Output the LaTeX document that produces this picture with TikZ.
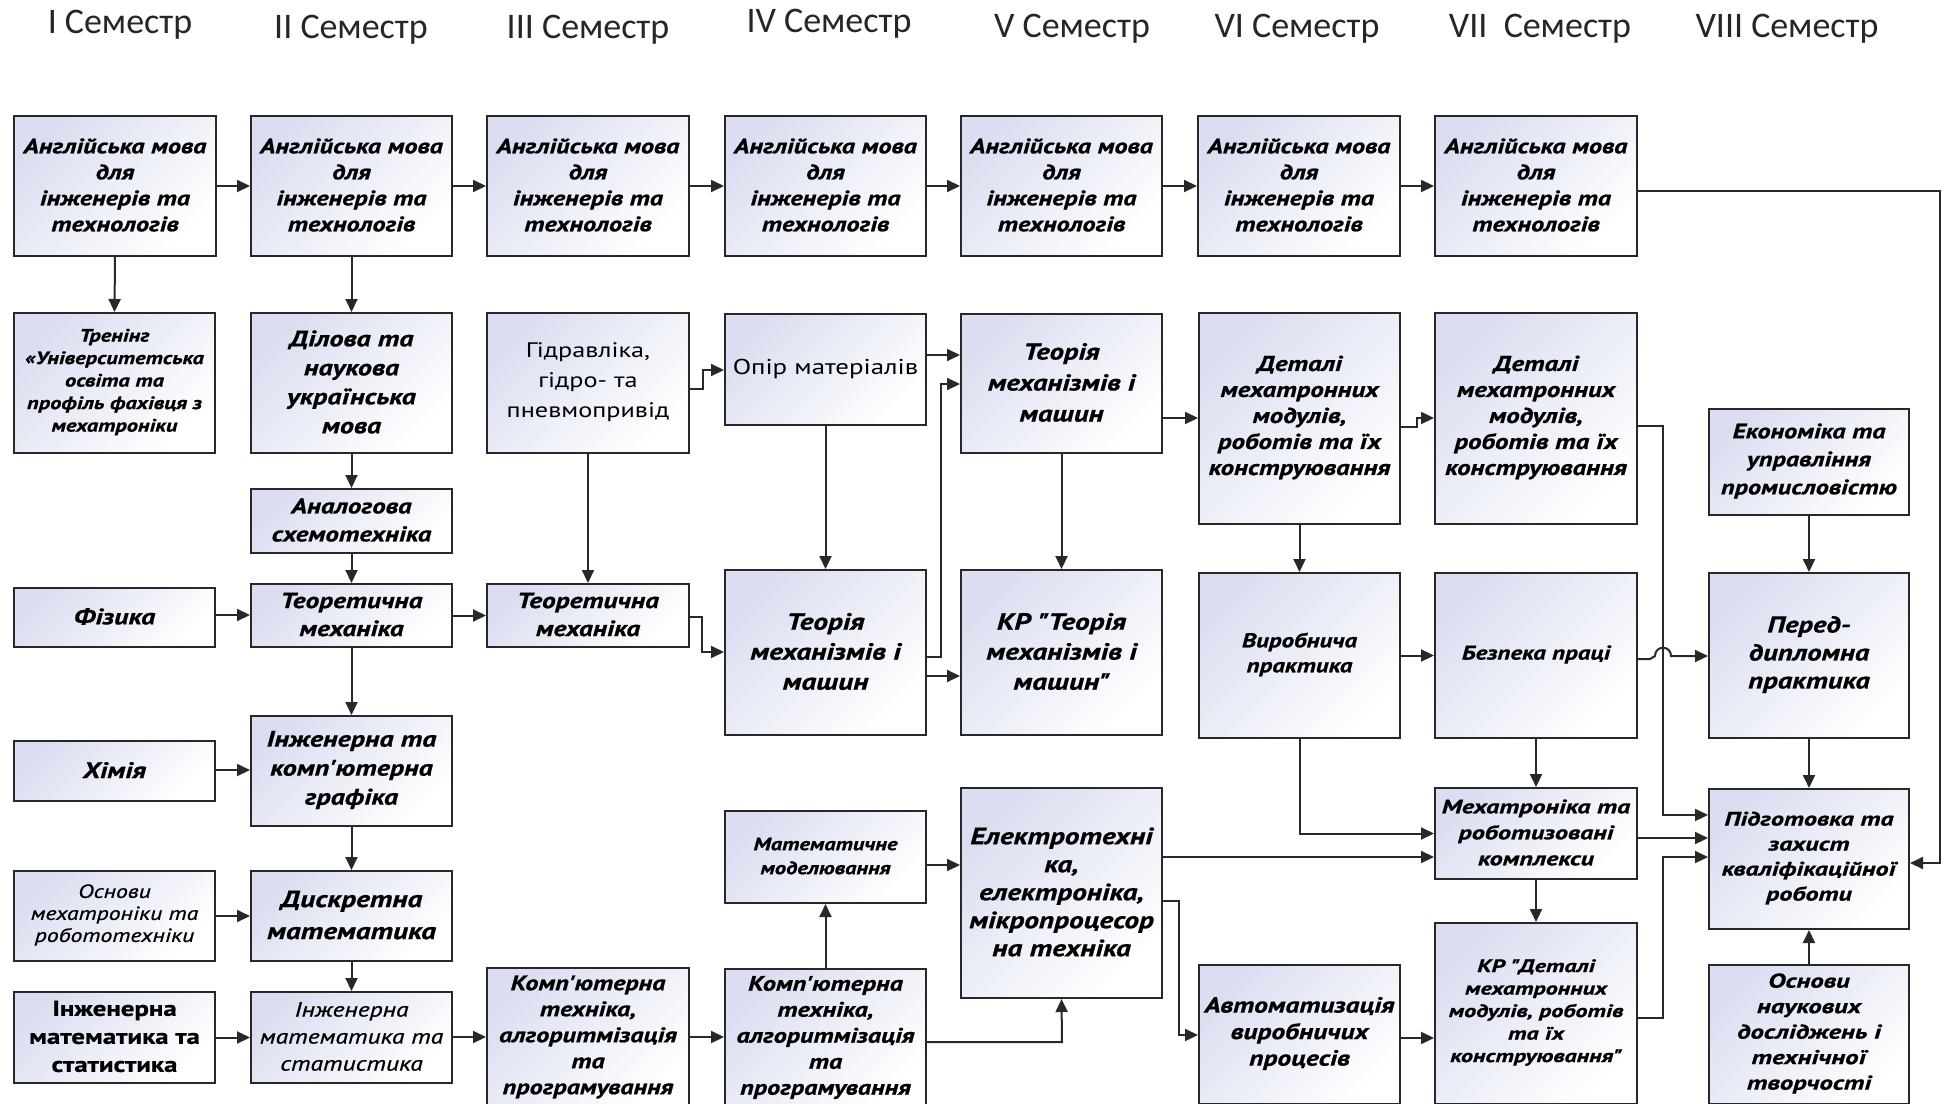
\documentclass[tikz,border=0pt]{standalone}
\usepackage{fontspec}
\newfontfamily\pts{PT Sans}[FakeStretch=1.25]
\newfontfamily\ptb{PT Sans}[FakeStretch=1.25, FakeBold=0.8]
\newfontfamily\ptw{PT Sans}[FakeStretch=1.34, FakeBold=0.8]
\newfontfamily\calib{Carlito}
\usetikzlibrary{fit,arrows.meta}
\definecolor{boxtop}{RGB}{218,222,240}
\definecolor{bordc}{RGB}{40,40,40}
\newcommand\fbi[2]{\ptb\bfseries\itshape\fontsize{#1}{#2}\selectfont}
\newcommand\fwi[2]{\ptw\bfseries\itshape\fontsize{#1}{#2}\selectfont}
\newcommand\fri[2]{\ptb\itshape\fontsize{#1}{#2}\selectfont}
\newcommand\frr[2]{\pts\fontsize{#1}{#2}\selectfont}
\newcommand\fbr[2]{\ptb\bfseries\fontsize{#1}{#2}\selectfont}
\newcommand\bx[5][]{%
  \node[box,fit={(#3) (#4)}] (#2) {};
  \node[boxtext,#1] (#2-t) at ([yshift=1pt]#2.center) {#5};}
\tikzset{
  box/.style={draw=bordc, line width=2pt, top color=boxtop, bottom color=white, shading angle=45,
    inner sep=0pt},
  boxtext/.style={inner sep=0pt, align=center, text=black},
  arr/.style={line width=2pt, draw=bordc, -{Triangle[length=13pt,width=12pt]}},
  sem/.style={font=\calib\fontsize{36}{42}\selectfont, anchor=base, text=black!85},
}
\begin{document}
\begin{tikzpicture}[x=1pt,y=-1pt]
\useasboundingbox (0,0) rectangle (1946,1103);
\clip (0,0) rectangle (1946,1103);
\fill[white] (0,0) rectangle (1946,1103);
% semester titles
\node[sem] (s1) at (120,33) {I Семестр};
\node[sem] (s2) at (351,38) {II Семестр};
\node[sem] (s3) at (588,38) {III Семестр};
\node[sem] (s4) at (829,32) {IV Семестр};
\node[sem] (s5) at (1072,37) {V Семестр};
\node[sem] (s6) at (1297,37) {VI Семестр};
\node[sem] (s7) at (1540,37) {VII\ \ Семестр};
\node[sem] (s8) at (1787,37) {VIII Семестр};
% row 1
\bx[font=\fbi{21}{26}]{e1}{14,116}{216,256}{Англійська мова\\для\\інженерів та\\технологів}
\bx[font=\fbi{21}{26}]{e2}{251,116}{452,256}{Англійська мова\\для\\інженерів та\\технологів}
\bx[font=\fbi{21}{26}]{e3}{487,116}{689,256}{Англійська мова\\для\\інженерів та\\технологів}
\bx[font=\fbi{21}{26}]{e4}{725,116}{926,256}{Англійська мова\\для\\інженерів та\\технологів}
\bx[font=\fbi{21}{26}]{e5}{961,116}{1162,256}{Англійська мова\\для\\інженерів та\\технологів}
\bx[font=\fbi{21}{26}]{e6}{1198,116}{1400,256}{Англійська мова\\для\\інженерів та\\технологів}
\bx[font=\fbi{21}{26}]{e7}{1435,116}{1637,256}{Англійська мова\\для\\інженерів та\\технологів}
% row 2
\bx[font=\fbi{18}{22.5}]{trening}{14,313}{215,453}{Тренінг\\«Університетська\\освіта та\\профіль фахівця з\\мехатроніки}
\bx[font=\fbi{22.5}{29}]{dilova}{251,313}{452,453}{Ділова та\\наукова\\українська\\мова}
\bx[font=\frr{21}{30}]{hidr}{487,313}{689,453}{Гідравліка,\\гідро- та\\пневмопривід}
\bx[font=\frr{21.5}{28}]{opir}{725,314}{926,425}{Опір матеріалів}
\bx[font=\fbi{23}{31}]{tmm5}{961,314}{1162,453}{Теорія\\механізмів і\\машин}
\bx[font=\fbi{21.5}{26}]{det6}{1199,313}{1400,524}{Деталі\\мехатронних\\модулів,\\роботів та їх\\конструювання}
\bx[font=\fbi{21.5}{26}]{det7}{1435,313}{1637,524}{Деталі\\мехатронних\\модулів,\\роботів та їх\\конструювання}
\bx[font=\fbi{21}{28}]{ekon}{1709,409}{1909,515}{Економіка та\\управління\\промисловістю}
\bx[font=\fbi{21.5}{28}]{analog}{251,489}{452,553}{Аналогова\\схемотехніка}
% row 3
\bx[font=\fbi{22.5}{28}]{fiz}{14,588}{215,647}{Фізика}
\bx[font=\fbi{22}{28}]{tm2}{251,584}{452,647}{Теоретична\\механіка}
\bx[font=\fbi{22}{28}]{tm3}{487,584}{689,647}{Теоретична\\механіка}
\bx[font=\fbi{23.5}{30}]{tmm4}{725,570}{926,735}{Теорія\\механізмів і\\машин}
\bx[font=\fbi{23.5}{30}]{kr5}{961,570}{1162,735}{КР "Теорія\\механізмів і\\машин"}
\bx[font=\fbi{20}{25}]{vyr6}{1199,573}{1400,738}{Виробнича\\практика}
\bx[font=\fbi{20}{25}]{bez7}{1435,573}{1637,738}{Безпека праці}
\bx[font=\fbi{23}{28}]{pered8}{1709,573}{1909,738}{Перед-\\дипломна\\практика}
% lower rows
\bx[font=\fbi{22.5}{29}]{graf2}{251,716}{452,826}{Інженерна та\\комп'ютерна\\графіка}
\bx[font=\fbi{22.5}{28}]{khim1}{14,741}{215,801}{Хімія}
\bx[font=\fbi{18}{24}]{matmod4}{725,811}{926,903}{Математичне\\моделювання}
\bx[font=\fbi{23.5}{28}]{elek5}{961,788}{1162,998}{Електротехні\\ка,\\електроніка,\\мікропроцесор\\на техніка}
\bx[font=\fwi{19.5}{26}]{mekh7}{1435,788}{1637,879}{Мехатроніка та\\роботизовані\\комплекси}
\bx[font=\fwi{19.5}{25}]{pidg8}{1709,789}{1909,929}{Підготовка та\\захист\\кваліфікаційної\\роботи}
\bx[font=\fri{19}{22}]{osn1}{14,871}{215,961}{Основи\\мехатроніки та\\робототехніки}
\bx[font=\fbi{23.5}{32}]{dysk2}{251,871}{452,961}{Дискретна\\математика}
\bx[font=\fbr{21.5}{28}]{im1}{14,992}{215,1083}{Інженерна\\математика та\\статистика}
\bx[font=\fri{20.5}{27}]{im2}{251,992}{452,1083}{Інженерна\\математика та\\статистика}
\bx[font=\fbi{21}{26}]{komp3}{487,968}{689,1108}{Комп'ютерна\\техніка,\\алгоритмізація\\та\\програмування}
\bx[font=\fbi{21}{26}]{komp4}{725,969}{926,1108}{Комп'ютерна\\техніка,\\алгоритмізація\\та\\програмування}
\bx[font=\fbi{22}{26.5}]{avt6}{1199,965}{1400,1104}{Автоматизація\\виробничих\\процесів}
\bx[font=\fwi{18}{22.5}]{krd7}{1435,923}{1637,1104}{КР "Деталі\\мехатронних\\модулів, роботів\\та їх\\конструювання"}
\bx[font=\fwi{20}{25.5}]{osnn8}{1709,965}{1909,1104}{Основи\\наукових\\досліджень і\\технічної\\творчості}
% junction coordinates
\coordinate (j1) at (1940,191);
\coordinate (j2) at (1940,863);
\coordinate (a1) at (703,389);
\coordinate (a2) at (703,370);
\coordinate (a3) at (702,617);
\coordinate (a4) at (702,652);
\coordinate (a5) at (943,355);
\coordinate (a6) at (941,657);
\coordinate (a7) at (941,384);
\coordinate (a8) at (943,676);
\coordinate (a9) at (1180,418);
\coordinate (b1) at (1417,427);
\coordinate (b2) at (1417,418);
\coordinate (b3) at (1663,426);
\coordinate (b4) at (1663,815);
\coordinate (b5) at (1663,1018);
\coordinate (b6) at (1663,857);
\coordinate (b7) at (1670,838);
\coordinate (h1) at (1650,659);
\coordinate (h2) at (1655,656);
\coordinate (h3) at (1671,656);
\coordinate (c2) at (1100,857);
\coordinate (c3) at (1179,901);
\coordinate (c4) at (1179,1035);
\coordinate (c5) at (1420,1038);
\coordinate (c6) at (943,865);
\coordinate (c7) at (1062,1042);
\coordinate (c8) at (470,1037);
\coordinate (c9) at (233,770);
\coordinate (c10) at (233,615);
% row 1 chain
\draw[arr] (e1) -- (e2);
\draw[arr] (e2) -- (e3);
\draw[arr] (e3) -- (e4);
\draw[arr] (e4) -- (e5);
\draw[arr] (e5) -- (e6);
\draw[arr] (e6) -- (e7);
\draw[arr] (e7.east |- j1) -- (j1) -- (j2) -- (pidg8.east |- j2);
% column 1-2
\draw[arr] (e1.south) -- (trening.north);
\draw[arr] (e2.south) -- (dilova.north);
\draw[arr] (dilova) -- (analog);
\draw[arr] (analog) -- (tm2);
\draw[arr] (tm2) -- (graf2);
\draw[arr] (graf2) -- (dysk2);
\draw[arr] (dysk2) -- (im2);
\draw[arr] (fiz.east |- c10) -- (tm2.west |- c10);
\draw[arr] (khim1.east |- c9) -- (graf2.west |- c9);
\draw[arr] (osn1) -- (dysk2);
\draw[arr] (im1) -- (im2);
\draw[arr] (tm2) -- (tm3);
% column 3-5
\draw[arr] (hidr) -- (tm3);
\draw[arr] (hidr.east |- a1) -- (a1) -- (a2) -- (opir.west |- a2);
\draw[arr] (tm3.east |- a3) -- (a3) -- (a4) -- (tmm4.west |- a4);
\draw[arr] (opir.east |- a5) -- (tmm5.west |- a5);
\draw[arr] (opir) -- (tmm4);
\draw[arr] (tmm4.east |- a6) -- (a6) -- (a7) -- (tmm5.west |- a7);
\draw[arr] (tmm4.east |- a8) -- (kr5.west |- a8);
\draw[arr] (tmm5) -- (kr5);
\draw[arr] (tmm5.east |- a9) -- (det6.west |- a9);
\draw[arr] (im2.east |- c8) -- (komp3.west |- c8);
\draw[arr] (komp3.east |- c8) -- (komp4.west |- c8);
\draw[arr] (komp4) -- (matmod4);
\draw[arr] (komp4.east |- c7) -- (c7) -- (elek5.south);
\draw[arr] (matmod4.east |- c6) -- (elek5.west |- c6);
% column 6-8
\draw[arr] (det6.east |- b1) -- (b1) -- (b2) -- (det7.west |- b2);
\draw[arr] (det6) -- (vyr6);
\draw[arr] (vyr6) -- (bez7);
\draw[arr] (det7.east |- b3) -- (b3) -- (b4) -- (pidg8.west |- b4);
\draw[arr] (bez7.east |- h1) -- (h1) -- (h2) .. controls (1655,645) and (1671,645) .. (h3) -- (pered8.west |- h3);
\draw[arr] (ekon) -- (pered8);
\draw[arr] (pered8) -- (pidg8);
\draw[arr] (osnn8) -- (pidg8);
\draw[arr] (bez7) -- (mekh7);
\draw[arr] (mekh7) -- (krd7);
\draw[arr] (vyr6.south) |- (mekh7.west);
\draw[arr] (elek5.east |- c2) -- (mekh7.west |- c2);
\draw[arr] (mekh7.east |- b7) -- (pidg8.west |- b7);
\draw[arr] (krd7.east |- b5) -- (b5) -- (b6) -- (pidg8.west |- b6);
\draw[arr] (elek5.east |- c3) -- (c3) -- (c4) -- (avt6.west |- c4);
\draw[arr] (avt6.east |- c5) -- (krd7.west |- c5);
\end{tikzpicture}
\end{document}
